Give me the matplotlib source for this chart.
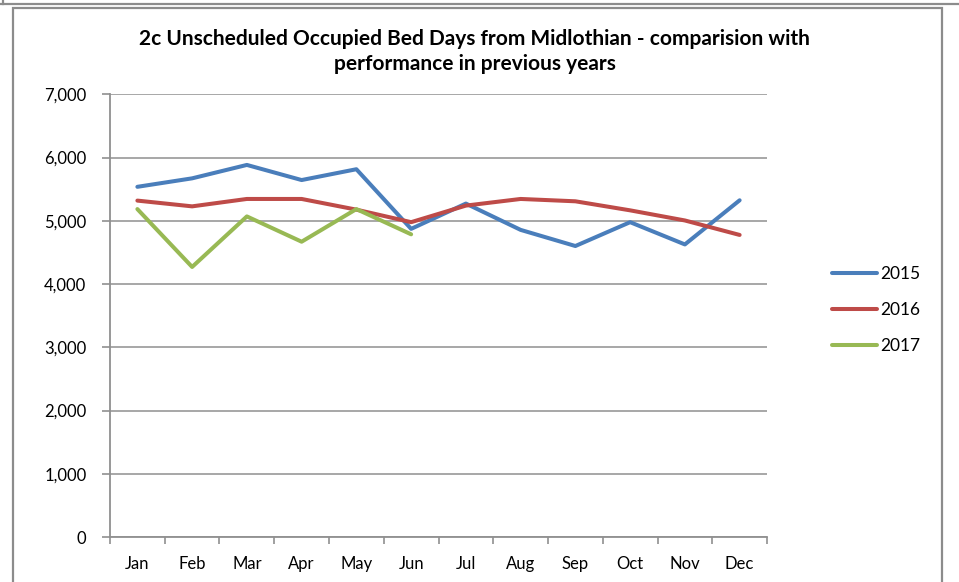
import matplotlib
matplotlib.use("Agg")
from matplotlib import pyplot as plt
from matplotlib.lines import Line2D
from matplotlib.patches import Rectangle

months = ['Jan', 'Feb', 'Mar', 'Apr', 'May', 'Jun',
          'Jul', 'Aug', 'Sep', 'Oct', 'Nov', 'Dec']
beds_2015 = [5537, 5671, 5883, 5644, 5815, 4872, 5272, 4856, 4601, 4978, 4626, 5324]
beds_2016 = [5319, 5228, 5345, 5345, 5176, 4978, 5240, 5345, 5308, 5165, 5005, 4776]
beds_2017 = [5185, 4270, 5069, 4669, 5185, 4786]
yticks = [0, 1000, 2000, 3000, 4000, 5000, 6000, 7000]

plt.rcParams['font.family'] = ['Lato', 'DejaVu Sans']

fig = plt.figure(figsize=(9.59, 5.82), dpi=100)
ax = fig.add_axes([0.1147, 0.0773, 0.6851, 0.7607])

x = list(range(len(months)))
ax.plot(x, beds_2015, color='#4a7ebb', linewidth=2.9, label='2015', solid_capstyle='round')
ax.plot(x, beds_2016, color='#be4b48', linewidth=2.9, label='2016', solid_capstyle='round')
ax.plot(x[:len(beds_2017)], beds_2017, color='#98b954', linewidth=2.9, label='2017',
        solid_capstyle='round')

ax.set_xlim(-0.5, 11.5)
ax.set_ylim(0, 7000)
ax.set_yticks(yticks)
ax.set_yticklabels([f'{v:,}' for v in yticks])
ax.set_xticks([i + 0.5 for i in range(-1, 12)], minor=False)
ax.set_xticklabels([])
ax.set_xticks(x, minor=True)
ax.set_xticklabels(months, minor=True)
ax.tick_params(axis='x', which='minor', length=0, pad=14, labelsize=12)
ax.tick_params(axis='x', which='major', length=5, color='#909090', width=1.2)
ax.tick_params(axis='y', length=6, color='#909090', width=1.2, pad=11, labelsize=12)

ax.yaxis.grid(True, color='#a0a0a0', linewidth=1.3)
ax.set_axisbelow(True)
for s in ['top', 'right']:
    ax.spines[s].set_visible(False)
ax.spines['left'].set_color('#909090')
ax.spines['bottom'].set_color('#909090')
ax.spines['left'].set_linewidth(1.3)
ax.spines['bottom'].set_linewidth(1.3)

fig.text(0.495, 0.933, '2c Unscheduled Occupied Bed Days from Midlothian - comparision with',
         ha='center', va='center', fontsize=15, fontweight='bold')
fig.text(0.495, 0.890, 'performance in previous years',
         ha='center', va='center', fontsize=15, fontweight='bold')

ax.legend(loc='center left', bbox_to_anchor=(1.075, 0.512), frameon=False,
          fontsize=12.5, handlelength=2.6, handletextpad=0.2, labelspacing=1.15)

# chart frame
fig.add_artist(Rectangle((13 / 959, -0.05), (942 - 13) / 959, 1.05 - 8 / 582,
                         transform=fig.transFigure, fill=False,
                         edgecolor='#8c8c8c', linewidth=1.6))
fig.add_artist(Line2D([0, 1], [1 - 4 / 582, 1 - 4 / 582], transform=fig.transFigure,
                      color='#8c8c8c', linewidth=1.6))
fig.add_artist(Line2D([3 / 959, 3 / 959], [1 - 4 / 582, 1], transform=fig.transFigure,
                      color='#8c8c8c', linewidth=1.6))

fig.savefig('out.png', dpi=100)
